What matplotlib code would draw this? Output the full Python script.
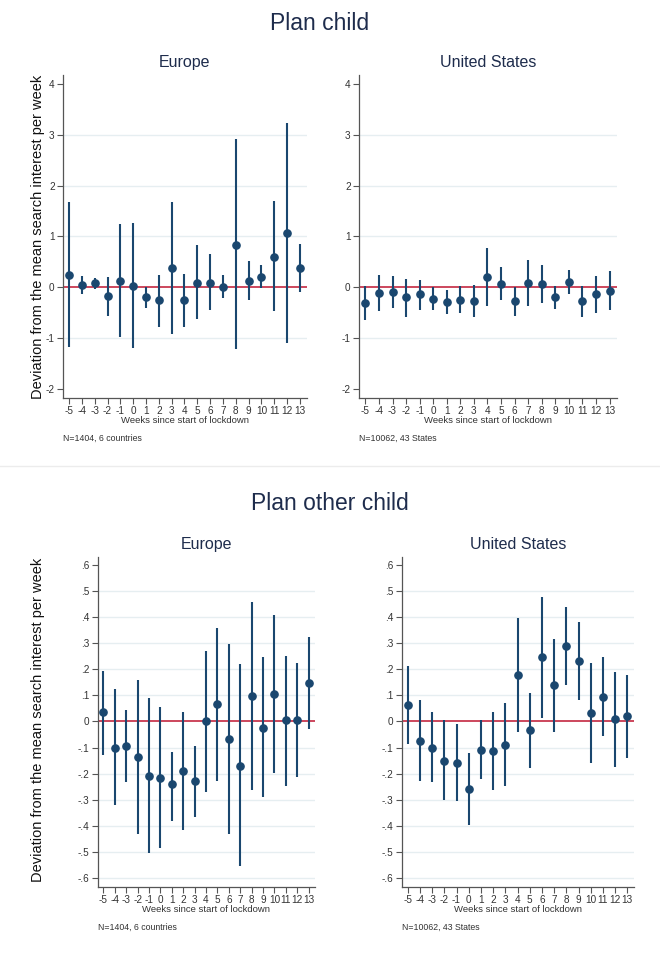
import matplotlib
matplotlib.use("Agg")
import matplotlib.pyplot as plt
import numpy as np

plt.rcParams['font.family'] = ['Liberation Sans', 'DejaVu Sans']

weeks = list(range(-5, 14))

# Plan child - Europe
eu1_est = [0.25, 0.04, 0.085, -0.18, 0.13, 0.03, -0.20, -0.26, 0.38, -0.255,
           0.09, 0.09, 0.0, 0.84, 0.13, 0.20, 0.60, 1.07, 0.38]
eu1_lo = [-1.17, -0.14, -0.04, -0.56, -0.97, -1.20, -0.41, -0.78, -0.91, -0.78,
          -0.63, -0.45, -0.22, -1.21, -0.25, -0.02, -0.47, -1.09, -0.10]
eu1_hi = [1.68, 0.22, 0.18, 0.20, 1.24, 1.26, 0.0, 0.25, 1.68, 0.27,
          0.84, 0.65, 0.235, 2.92, 0.52, 0.43, 1.69, 3.24, 0.86]

# Plan child - United States
us1_est = [-0.31, -0.11, -0.09, -0.20, -0.14, -0.23, -0.29, -0.25, -0.27, 0.20,
           0.065, -0.27, 0.09, 0.07, -0.20, 0.10, -0.27, -0.14, -0.07]
us1_lo = [-0.65, -0.47, -0.41, -0.58, -0.44, -0.45, -0.52, -0.51, -0.58, -0.37,
          -0.25, -0.56, -0.36, -0.31, -0.43, -0.14, -0.58, -0.50, -0.45]
us1_hi = [0.03, 0.25, 0.22, 0.17, 0.14, 0.0, -0.05, 0.02, 0.04, 0.77,
          0.39, 0.0, 0.54, 0.44, 0.03, 0.35, 0.03, 0.22, 0.33]

# Plan other child - Europe
eu2_est = [0.035, -0.100, -0.094, -0.136, -0.209, -0.217, -0.240, -0.191, -0.229, 0.0,
           0.067, -0.069, -0.171, 0.099, -0.024, 0.106, 0.004, 0.006, 0.149]
eu2_lo = [-0.128, -0.322, -0.232, -0.430, -0.503, -0.487, -0.381, -0.415, -0.366, -0.270,
          -0.228, -0.430, -0.555, -0.264, -0.290, -0.198, -0.247, -0.212, -0.028]
eu2_hi = [0.195, 0.124, 0.045, 0.160, 0.090, 0.056, -0.116, 0.037, -0.094, 0.272,
          0.358, 0.296, 0.220, 0.460, 0.246, 0.408, 0.252, 0.225, 0.326]

# Plan other child - United States
us2_est = [0.064, -0.075, -0.100, -0.150, -0.159, -0.260, -0.108, -0.115, -0.090, 0.180,
           -0.034, 0.249, 0.140, 0.290, 0.232, 0.033, 0.095, 0.009, 0.020]
us2_lo = [-0.088, -0.228, -0.233, -0.300, -0.305, -0.398, -0.220, -0.262, -0.247, -0.040,
          -0.178, 0.015, -0.040, 0.140, 0.081, -0.160, -0.057, -0.175, -0.142]
us2_hi = [0.214, 0.082, 0.036, 0.005, -0.008, -0.120, 0.006, 0.035, 0.070, 0.397,
          0.110, 0.479, 0.317, 0.440, 0.382, 0.224, 0.247, 0.190, 0.180]

NAVY = "#1a476f"
RED = "#c8384f"
GRID = "#e6eef1"
TXT = "#1e2c4c"

fig = plt.figure(figsize=(6.6, 9.59), dpi=100)
H = 959.0
W = 660.0


def make_ax(x0, x1, y0, y1):
    return fig.add_axes([x0 / W, 1 - y1 / H, (x1 - x0) / W, (y1 - y0) / H])


def draw(ax, est, lo, hi, yticks, ylim, fmt, grid, title, note):
    for g in grid:
        ax.axhline(g, color=GRID, lw=1.0, zorder=0)
    ax.axhline(0, color=RED, lw=1.3, zorder=1)
    ax.vlines(weeks, lo, hi, color=NAVY, lw=1.5, zorder=2)
    ax.plot(weeks, est, 'o', color=NAVY, ms=5.2, zorder=3)
    ax.set_xlim(-5.47, 13.55)
    ax.set_ylim(*ylim)
    ax.set_xticks(weeks)
    ax.set_xticklabels([str(w) for w in weeks])
    ax.set_yticks(yticks)
    ax.set_yticklabels([fmt(v) for v in yticks])
    for s in ['top', 'right']:
        ax.spines[s].set_visible(False)
    for s in ['left', 'bottom']:
        ax.spines[s].set_color("#555555")
        ax.spines[s].set_linewidth(0.9)
    ax.tick_params(axis='both', length=4, width=0.8, color="#555555",
                   labelsize=7.2, labelcolor="#333333", pad=2)
    ax.set_xlabel("Weeks since start of lockdown", fontsize=6.8,
                  color="#333333", labelpad=0)
    ax.set_title(title, fontsize=11.5, color=TXT, pad=6)
    ax.text(0, -0.11, note, transform=ax.transAxes, fontsize=6.3,
            color="#333333", va='top', ha='left')


def fmt_int(v):
    return str(int(round(v)))


def fmt_dec(v):
    if abs(v) < 1e-9:
        return "0"
    s = "%.1f" % v
    return s.replace("0.", ".")


top_ticks = [4, 3, 2, 1, 0, -1, -2]
top_grid = [3, 2, 1, -1]
bot_ticks = [0.6, 0.5, 0.4, 0.3, 0.2, 0.1, 0.0, -0.1, -0.2, -0.3, -0.4, -0.5, -0.6]
bot_grid = [0.5, 0.4, 0.3, 0.2, 0.1, -0.1, -0.2, -0.3, -0.4, -0.5, -0.6]

ax1 = make_ax(63, 307, 75, 398)
draw(ax1, eu1_est, eu1_lo, eu1_hi, top_ticks, (-2.18, 4.18), fmt_int, top_grid,
     "Europe", "N=1404, 6 countries")
ax2 = make_ax(359, 617, 75, 398)
draw(ax2, us1_est, us1_lo, us1_hi, top_ticks, (-2.18, 4.18), fmt_int, top_grid,
     "United States", "N=10062, 43 States")
ax3 = make_ax(98, 315, 557, 887)
draw(ax3, eu2_est, eu2_lo, eu2_hi, bot_ticks, (-0.635, 0.631), fmt_dec, bot_grid,
     "Europe", "N=1404, 6 countries")
ax4 = make_ax(402, 634, 557, 887)
draw(ax4, us2_est, us2_lo, us2_hi, bot_ticks, (-0.635, 0.631), fmt_dec, bot_grid,
     "United States", "N=10062, 43 States")

fig.text(320 / W, 1 - 23 / H, "Plan child", fontsize=16.5, color=TXT,
         ha='center', va='center')
fig.text(330 / W, 1 - 503 / H, "Plan other child", fontsize=16.5, color=TXT,
         ha='center', va='center')

ylab = "Deviation from the mean search interest per week"
fig.text(38 / W, 1 - 237 / H, ylab, fontsize=10.5, rotation=90,
         ha='center', va='center', color="#111111")
fig.text(38 / W, 1 - 720 / H, ylab, fontsize=10.5, rotation=90,
         ha='center', va='center', color="#111111")

# faint separator between the two figures
fig.add_artist(plt.Line2D([0, 1], [1 - 466 / H, 1 - 466 / H],
                          color="#ececec", lw=1.0, transform=fig.transFigure))

fig.savefig("out.png", dpi=100)
